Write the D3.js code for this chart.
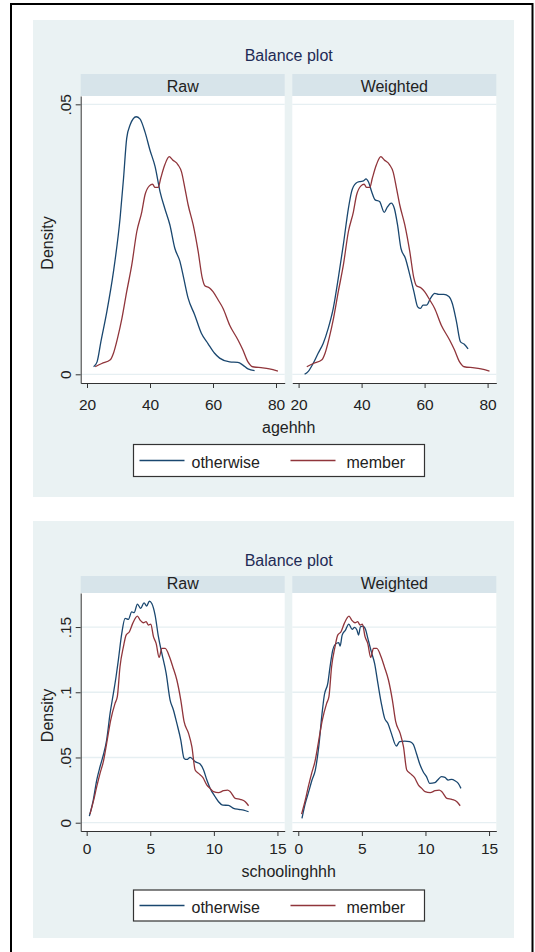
<!DOCTYPE html>
<html>
<head>
<meta charset="utf-8">
<script src="https://cdn.jsdelivr.net/npm/d3@7"></script>
<style>
body { margin: 0; background: #fff; }
text { font-family: "Liberation Sans", Arial, sans-serif; }
</style>
</head>
<body>
<svg></svg>
<script>
var panelNames = ["Raw", "Weighted"];
var groupNames = ["otherwise", "member"];

var ageTicks = [20, 40, 60, 80];
var ageDensityTicks = [0, 0.05];
var ageDensityLabels = ["0", ".05"];
var schoolTicks = [0, 5, 10, 15];
var schoolDensityTicks = [0, 0.05, 0.1, 0.15];
var schoolDensityLabels = ["0", ".05", ".1", ".15"];

// agehhh densities, [value, density]
var ageOtherwiseRaw = [[22.1,.0014],[23.2,.0023],[24.4,.006],[26.3,.0116],[28.4,.019],[30.5,.0289],[31.6,.0363],[32.6,.0437],[33.7,.0462],[35.6,.0477],[36.8,.0473],[38.4,.0449],[40,.0415],[41.6,.0385],[43.2,.0338],[44.7,.0307],[46.3,.0277],[47.9,.0233],[49.5,.0209],[50.7,.0178],[52.1,.0141],[54.2,.011],[56.3,.0076],[58.4,.0057],[60.5,.0039],[62.1,.003],[65.3,.0023],[67.9,.0022],[69.5,.0017],[71.1,.001],[73.2,.0007]];
var ageOtherwiseWeighted = [[21.9,0],[23,.0005],[24.6,.002],[26.2,.0039],[27.8,.0057],[29.4,.0085],[31,.0122],[32.6,.0178],[34.2,.024],[35.8,.0307],[36.8,.0338],[38.2,.0354],[39.5,.0357],[40.6,.0358],[41.4,.0362],[42.2,.0356],[43.2,.0338],[44.3,.0323],[45.7,.032],[47.2,.03],[48.2,.031],[49.4,.0317],[50.4,.0307],[51.4,.0277],[52.5,.0233],[53.9,.0215],[55.3,.0184],[56.6,.0153],[57.8,.0125],[58.7,.0122],[59.5,.0128],[60.6,.0128],[61.9,.0141],[63.2,.015],[64.5,.0148],[66.1,.0148],[67.7,.0144],[68.8,.0131],[70.1,.0098],[71.4,.006],[72.5,.0056],[73.8,.0047]];
// member curve is the same in both panels
var ageMember = [[22.6,.0014],[24.7,.002],[27.4,.0027],[28.4,.0039],[29.7,.0067],[31.1,.0104],[32.6,.0153],[34.2,.0202],[35.8,.0264],[37.4,.0301],[38.4,.0332],[39.8,.0349],[40.8,.0352],[41.6,.0346],[42.6,.0346],[43.4,.0363],[44.7,.0388],[46.1,.0403],[47.2,.0397],[48.9,.0388],[50,.0375],[51.1,.0344],[52.1,.0314],[53.7,.0277],[55.3,.0227],[56.6,.0178],[57.4,.0164],[58.9,.016],[60,.0153],[61.6,.0138],[63.2,.0122],[65.3,.0091],[67.9,.0064],[69.5,.0045],[71.1,.0023],[72.6,.0014],[75.8,.0012],[77.9,.001],[80.6,.0006]];

// schoolinghhh densities
var schoolOtherwiseRaw = [[0.21,.0051],[0.52,.0174],[0.79,.0327],[1.05,.0429],[1.31,.0519],[1.57,.0634],[1.84,.0838],[2.1,.0991],[2.31,.1119],[2.49,.1247],[2.76,.1451],[3.02,.1566],[3.28,.1559],[3.54,.1617],[3.73,.161],[3.99,.1676],[4.25,.1643],[4.51,.1686],[4.72,.1661],[4.93,.1699],[5.12,.1681],[5.38,.1592],[5.64,.1426],[5.91,.1298],[6.25,.1145],[6.56,.094],[6.82,.0864],[7.09,.0761],[7.4,.0634],[7.66,.0493],[7.87,.0485],[8.14,.0501],[8.53,.0468],[8.92,.045],[9.19,.0404],[9.45,.0327],[9.71,.0263],[10.1,.0199],[10.37,.0161],[10.71,.0135],[11.15,.0133],[11.55,.011],[11.94,.0102],[12.34,.0097],[12.73,.0084]];
var schoolOtherwiseWeighted = [[0.29,.0033],[0.55,.0148],[0.82,.0238],[1.08,.0327],[1.34,.0404],[1.61,.0583],[1.87,.0838],[2.05,.0979],[2.32,.1068],[2.5,.1196],[2.71,.1323],[2.92,.1369],[3.18,.138],[3.29,.1354],[3.45,.1438],[3.71,.1477],[3.97,.1523],[4.24,.1482],[4.42,.1497],[4.61,.1477],[4.74,.1438],[4.89,.1502],[5.08,.1507],[5.29,.1482],[5.47,.1413],[5.74,.1311],[6,.1221],[6.26,.1068],[6.53,.0915],[6.79,.08],[7.05,.0761],[7.32,.0685],[7.71,.0588],[7.97,.0621],[8.37,.0626],[8.76,.0621],[9.03,.0603],[9.29,.0531],[9.55,.045],[9.82,.0391],[10.08,.0353],[10.34,.0301],[10.74,.0307],[11,.0332],[11.26,.0353],[11.53,.0347],[11.79,.0327],[12.05,.0332],[12.32,.0322],[12.58,.0301],[12.79,.0263]];
var schoolMember = [[0.26,.0066],[0.52,.0161],[0.79,.0276],[1.05,.0378],[1.31,.0468],[1.57,.0608],[1.89,.0787],[2.23,.0915],[2.41,.0966],[2.62,.1196],[2.89,.1349],[3.1,.1438],[3.36,.1464],[3.62,.1528],[3.99,.1584],[4.2,.1553],[4.46,.1533],[4.67,.1541],[4.86,.1515],[5.04,.1523],[5.25,.1426],[5.46,.1375],[5.7,.1267],[5.91,.1336],[6.17,.1336],[6.51,.1272],[6.77,.1196],[7.09,.1094],[7.4,.094],[7.66,.0774],[8.01,.0685],[8.27,.0583],[8.53,.0404],[8.79,.0378],[9.13,.0347],[9.45,.0289],[9.71,.0263],[9.97,.0238],[10.37,.023],[10.76,.0245],[11.08,.025],[11.29,.0238],[11.68,.0187],[12.07,.0179],[12.47,.0161],[12.73,.013]];

var screen = {width: 535, height: 952};
var colors = {otherwise: "#1a476f", member: "#90353b"};
var panelX = [80.7, 292.3];
var panelWidth = 204;

var svg = d3.select("svg")
    .attr("width", screen.width)
    .attr("height", screen.height);

svg.append("rect")
    .attr("x", 11).attr("y", 4)
    .attr("width", 521.5).attr("height", 1000)
    .attr("fill", "none")
    .attr("stroke", "#000")
    .attr("stroke-width", 2);

var makeChart = function(c)
{
    var g = svg.append("g");

    g.append("rect")
        .attr("x", 33).attr("y", c.bgTop)
        .attr("width", 481).attr("height", c.bgHeight)
        .attr("fill", "#eaf2f3");

    g.append("text")
        .attr("x", 288.7).attr("y", c.titleY)
        .attr("text-anchor", "middle")
        .attr("font-size", 16)
        .attr("fill", "#1e2b55")
        .text("Balance plot");

    var xScale = d3.scaleLinear().domain(c.xDomain).range([0, panelWidth]);
    var yScale = d3.scaleLinear().domain(c.yDomain).range([c.plotHeight, 0]);

    var lineGenerator = d3.line()
        .x(function(p){ return xScale(p[0]); })
        .y(function(p){ return yScale(p[1]); })
        .curve(d3.curveMonotoneX);

    panelNames.forEach(function(name, i)
    {
        var p = g.append("g")
            .attr("transform", "translate(" + panelX[i] + "," + c.plotTop + ")");

        p.append("rect")
            .attr("x", 0).attr("y", -c.stripHeight)
            .attr("width", panelWidth).attr("height", c.stripHeight)
            .attr("fill", "#d7e4ea");

        p.append("text")
            .attr("x", panelWidth / 2).attr("y", c.stripTextY)
            .attr("text-anchor", "middle")
            .attr("font-size", 16)
            .attr("fill", "#222")
            .text(name);

        p.append("rect")
            .attr("width", panelWidth).attr("height", c.plotHeight)
            .attr("fill", "#fff");

        p.selectAll(".grid")
            .data(c.yTicks)
            .enter()
            .append("line")
            .attr("x1", 0).attr("x2", panelWidth)
            .attr("y1", function(d){ return yScale(d); })
            .attr("y2", function(d){ return yScale(d); })
            .attr("stroke", "#e6eff2")
            .attr("stroke-width", 1.3);

        var xAxis = d3.axisBottom(xScale).tickValues(c.xTicks).tickSize(5).tickSizeOuter(0);
        var xg = p.append("g")
            .attr("transform", "translate(0," + c.plotHeight + ")")
            .call(xAxis);
        xg.selectAll("text")
            .attr("y", c.tickLabelY).attr("dy", null)
            .attr("font-size", 15.5)
            .attr("fill", "#222");

        if (i == 0)
        {
            var yAxis = d3.axisLeft(yScale).tickValues(c.yTicks).tickSize(5).tickSizeOuter(0)
                .tickFormat(function(d, k){ return c.yLabels[k]; });
            var yg = p.append("g").call(yAxis);
            yg.selectAll("text")
                .attr("x", null).attr("dy", null)
                .attr("text-anchor", "middle")
                .attr("transform", "translate(-10,0) rotate(-90)")
                .attr("font-size", 15.5)
                .attr("fill", "#222");
        }

        p.selectAll(".domain, .tick line").attr("stroke", "#333");

        c.series[name].forEach(function(s, k)
        {
            p.append("path")
                .datum(s)
                .attr("d", lineGenerator)
                .attr("fill", "none")
                .attr("stroke", colors[groupNames[k]])
                .attr("stroke-width", 1.3);
        });
    });

    g.append("text")
        .attr("transform", "translate(53," + (c.plotTop + c.plotHeight / 2 + 3.5) + ") rotate(-90)")
        .attr("text-anchor", "middle")
        .attr("font-size", 16)
        .attr("fill", "#222")
        .text("Density");

    g.append("text")
        .attr("x", 288.7).attr("y", c.xTitleY)
        .attr("text-anchor", "middle")
        .attr("font-size", 16)
        .attr("fill", "#222")
        .text(c.xTitle);

    var lg = g.append("g").attr("transform", "translate(133.5," + c.legendTop + ")");
    lg.append("rect")
        .attr("width", 291).attr("height", c.legendHeight)
        .attr("fill", "#fff")
        .attr("stroke", "#333")
        .attr("stroke-width", 1.2);

    var items = lg.selectAll(".item")
        .data(groupNames)
        .enter()
        .append("g")
        .attr("transform", function(d, k){ return "translate(" + (6 + k * 151) + ",0)"; });
    items.append("line")
        .attr("x1", 0).attr("x2", 45)
        .attr("y1", c.legendHeight / 2).attr("y2", c.legendHeight / 2)
        .attr("stroke", function(d){ return colors[d]; })
        .attr("stroke-width", 1.3);
    items.append("text")
        .attr("x", function(d, k){ return k == 0 ? 52 : 56; })
        .attr("y", c.legendHeight / 2 + 7)
        .attr("font-size", 16)
        .attr("fill", "#222")
        .text(function(d){ return d; });
}

makeChart({
    bgTop: 20, bgHeight: 477, titleY: 60.5,
    plotTop: 96, plotHeight: 287, stripHeight: 22, stripTextY: -4.5,
    xDomain: [18, 82.76], yDomain: [-0.00161, 0.05154],
    xTicks: ageTicks, yTicks: ageDensityTicks, yLabels: ageDensityLabels,
    tickLabelY: 27, xTitle: "agehhh", xTitleY: 433,
    legendTop: 444.5, legendHeight: 32,
    series: {Raw: [ageOtherwiseRaw, ageMember], Weighted: [ageOtherwiseWeighted, ageMember]}
});

makeChart({
    bgTop: 521, bgHeight: 417, titleY: 566,
    plotTop: 593, plotHeight: 238, stripHeight: 17, stripTextY: -3.7,
    xDomain: [-0.47, 15.57], yDomain: [-0.00636, 0.1761],
    xTicks: schoolTicks, yTicks: schoolDensityTicks, yLabels: schoolDensityLabels,
    tickLabelY: 23.3, xTitle: "schoolinghhh", xTitleY: 876.5,
    legendTop: 890, legendHeight: 31,
    series: {Raw: [schoolOtherwiseRaw, schoolMember], Weighted: [schoolOtherwiseWeighted, schoolMember]}
});
</script>
</body>
</html>
